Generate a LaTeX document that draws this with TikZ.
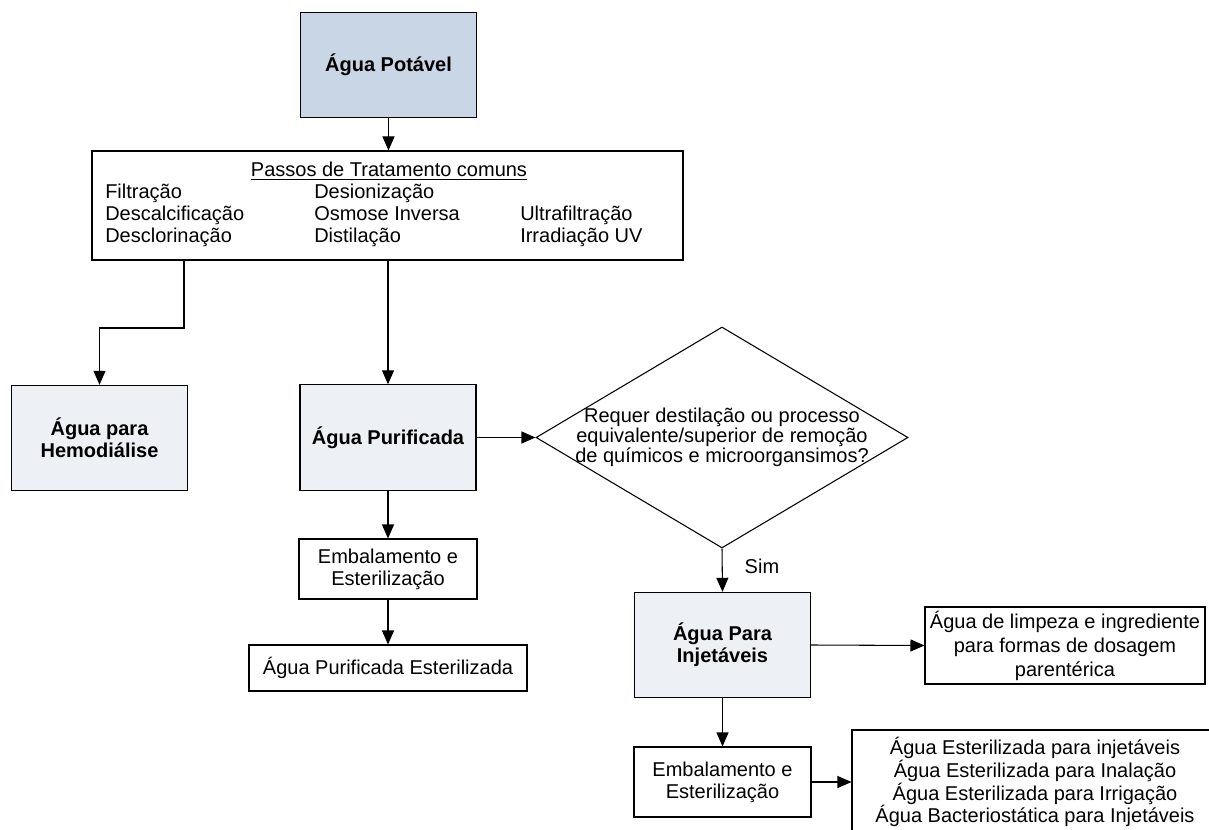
\documentclass[tikz,border=0pt]{standalone}
\usepackage{fontspec}
\setmainfont{Liberation Sans}
\usetikzlibrary{shapes.geometric,arrows.meta}

\definecolor{topfill}{RGB}{201,214,229}
\definecolor{lightfill}{RGB}{237,240,245}

\tikzset{
  txt/.style={font=\fontsize{15}{16.5}\selectfont},
  box/.style={txt, draw, rectangle, line width=0.8pt, align=center, inner sep=0pt},
  mainbox/.style={box, minimum width=132pt, minimum height=79pt, fill=lightfill,
    font=\bfseries\fontsize{15}{16.5}\selectfont},
  decision/.style={draw, diamond, line width=0.8pt, minimum width=279pt,
    minimum height=165.75pt, inner sep=0pt},
  steptext/.style={txt, anchor=base west, inner sep=0pt},
  arr/.style={-{Triangle[length=10.5pt,width=9pt]}, line width=0.8pt}
}

\begin{document}
\begin{tikzpicture}[x=0.75pt,y=-0.75pt]
      \clip (0,0) rectangle (1209,830);
      % top
      \node[mainbox, fill=topfill] (potavel) at (388.5,65) {\'Agua Pot\'avel};
      \node[box, minimum width=443.25pt, minimum height=81.75pt] (comuns) at (387.5,205.5) {};
      \node[txt, anchor=base, inner sep=0pt] (titulo) at (389,177) {\underline{Passos de Tratamento comuns}};
      \node[steptext] (filtr) at (105,199) {Filtração};
      \node[steptext] (descalc) at (105,221) {Descalcificação};
      \node[steptext] (descl) at (105,243) {Desclorinação};
      \node[steptext] (desion) at (314,199) {Desionização};
      \node[steptext] (osmose) at (314,221) {Osmose Inversa};
      \node[steptext] (destil) at (314,243) {Distilação};
      \node[steptext] (ultraf) at (520,221) {Ultrafiltração};
      \node[steptext] (uv) at (520,243) {Irradiação UV};
      % middle row
      \node[mainbox] (hemo) at (99.5,438) {Água para\\Hemodiálise};
      \node[mainbox] (purif) at (388,437.5) {Água Purificada};
      \node[decision] (quest) at (722,437.5) {};
      \node[txt, align=center, inner sep=0pt, font=\fontsize{15}{15}\selectfont] (questtxt) at (quest)
        {Requer destilação ou processo\\equivalente/superior de remoção\\de químicos e microorgansimos?};
      % lower left
      \node[box, minimum width=133.5pt, minimum height=45pt] (embal) at (388,569) {Embalamento e\\Esterilização};
      \node[box, minimum width=208.5pt, minimum height=34.5pt] (esteril) at (388,668) {Água Purificada Esterilizada};
      % lower right
      \node[mainbox] (inj) at (722.5,645) {Água Para\\Injetáveis};
      \node[box, minimum width=210pt, minimum height=57.75pt, font=\fontsize{15}{18}\selectfont] (limpeza) at (1065,645.5)
        {Água de limpeza e ingrediente\\para formas de dosagem\\parentérica};
      \node[box, minimum width=132.75pt, minimum height=52.5pt] (embalinj) at (722.5,782) {Embalamento e\\Esterilização};
      \node[box, minimum width=274.5pt, minimum height=78pt, font=\fontsize{15}{15.75}\selectfont] (usos) at (1035,782)
        {Água Esterilizada para injetáveis\\Água Esterilizada para Inalação\\Água Esterilizada para Irrigação\\Água Bacteriostática para Injetáveis};
      % connectors
      \coordinate (ramo) at (184,328);
      \draw[arr] (potavel.south) -- (comuns.north -| potavel.south);
      \draw[arr] (comuns.south -| ramo) -- (ramo) -| (hemo.north);
      \draw[arr] (comuns.south -| purif.north) -- (purif.north);
      \draw[arr] (purif.east) -- (quest.west);
      \draw[arr] (quest.south) -- node[txt, pos=0.41, anchor=west, inner sep=0pt, xshift=16.5pt] (sim) {Sim} (inj.north);
      \draw[arr] (purif.south) -- (embal.north);
      \draw[arr] (embal.south) -- (esteril.north);
      \draw[arr] (inj.east) -- (limpeza.west);
      \draw[arr] (inj.south) -- (embalinj.north);
      \draw[arr] (embalinj.east) -- (usos.west);
    \end{tikzpicture}
\end{document}
